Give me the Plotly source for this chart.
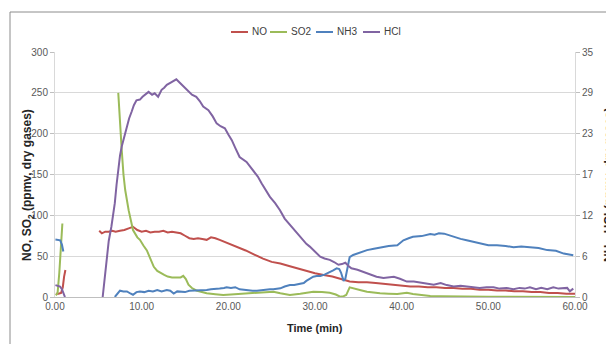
import plotly.graph_objects as go

# ---------------- data ----------------
series_names = ["NO", "SO2", "NH3", "HCl"]
series_colors = ["#c0504d", "#9bbb59", "#4f81bd", "#8064a2"]

no_t = [0.1, 0.4, 0.7, 0.9, 1.05, 1.2, None,
        5.1, 5.4, 5.8, 6.2, 6.6, 7.0, 7.5, 8.0, 8.5, 9.0, 9.5, 10.0, 10.5, 11.0, 11.5, 12.0, 12.5, 13.0, 13.5,
        14.0, 14.5, 15.0, 15.5, 16.0, 16.5, 17.0, 17.5, 18.0, 18.5, 19.0, 19.5, 20.0, 21.0, 22.0, 23.0, 24.0,
        25.0, 26.0, 27.0, 28.0, 29.0, 30.0, 31.0, 32.0, 33.0, 34.0, 35.0, 36.0, 37.0, 38.0, 39.0, 40.0, 41.0,
        42.0, 43.0, 44.0, 45.0, 46.0, 47.0, 48.0, 49.0, 50.0, 51.0, 52.0, 53.0, 54.0, 55.0, 56.0, 57.0, 58.0,
        59.0, 60.0]
no_v = [4, 4, 5, 12, 25, 33, None,
        81, 78, 80, 80, 81, 80, 81, 82, 84, 86, 82, 80, 81, 79, 80, 80, 81, 79, 80,
        79, 78, 75, 72, 71, 72, 71, 70, 73, 72, 70, 68, 66, 62, 57, 52, 47,
        43, 41, 38, 35, 32, 29, 27, 25, 22, 19, 18, 18, 17, 16, 15, 14, 13,
        13, 12, 12, 11, 11, 10, 10, 9, 9, 8, 8, 7, 7, 6, 6, 5, 5,
        4, 4]

so2_t = [0.1, 0.3, 0.5, 0.7, 0.85, None,
         7.3, 7.5, 7.7, 7.9, 8.1, 8.5, 9.0, 9.5, 9.8, 10.2, 10.6, 11.0, 11.4, 11.8, 12.2, 12.6, 13.0, 13.5,
         14.0, 14.5, 14.8, 15.1, 15.4, 15.8, 16.3, 16.9, 17.5, 18.5, 19.4, 20.3, 21.3, 22.3, 23.3, 24.3, 25.2,
         26.0, 27.1, 28.3, 29.8, 30.8, 31.7, 32.4, 32.9, 33.3, 33.6, 34.0, 34.4, 34.8, 35.4, 36.0, 36.8, 37.5,
         38.5, 39.5, 40.6, 41.3, 42.3, 43.3, 44.5, 45.5, 47.1, 48.5, 50.0, 52.0, 54.0, 56.0, 58.0, 60.0]
so2_v = [2, 5, 30, 70, 90, None,
         250, 210, 180, 150, 131, 106, 82, 73, 70, 63, 57, 47, 37, 32, 29, 27, 25, 24,
         24, 24, 26, 22, 15, 11, 8, 6, 4.5, 3.5, 2.4, 3, 3.7, 4.5, 5.3, 6, 6.5,
         4.5, 2.4, 4, 6.5, 6, 5.3, 3, 0.4, 1, 2.4, 11.8, 10.5, 9.4, 8, 6.5, 5, 4.5,
         4, 3.7, 5.3, 3.7, 2.5, 1.2, 1, 0.7, 0.4, 0.3, 0.2, 0.2, 0.1, 0.1, 0.1, 0.1]

nh3_t = [0.05, 0.3, 0.6, 0.8, 0.96, None,
         6.9, 7.2, 7.5, 7.9, 8.3, 8.7, 9.0, 9.4, 9.8, 10.3, 10.8, 11.3, 11.8, 12.3, 12.9, 13.3, 13.7, 14.1,
         14.5, 15.0, 15.5, 16.0, 16.5, 17.0, 17.5, 18.0, 18.5, 19.0, 19.5, 19.8, 20.3, 20.8, 21.3, 21.8, 22.3,
         22.8, 23.3, 23.8, 24.3, 24.8, 25.2, 25.6, 26.0, 26.5, 27.1, 27.6, 28.3, 28.7, 29.0, 29.4, 29.8, 30.2,
         30.6, 31.1, 31.7, 32.1, 32.5, 32.8, 33.0, 33.3, 33.5, 33.7, 34.0, 34.4, 34.8, 35.4, 36.0, 36.8, 37.5,
         38.5, 39.5, 40.2, 40.8, 41.3, 42.3, 43.3, 43.8, 44.3, 44.9, 45.5, 46.2, 46.8, 47.5, 48.2, 49.0, 50.0,
         51.0, 52.0, 52.9, 53.8, 54.8, 55.8, 56.8, 57.8, 58.7, 59.3, 59.8]
nh3_v = [8.2, 8.2, 8.1, 7.5, 6.5, None,
         0, 0.5, 0.9, 0.8, 0.8, 0.5, 0.3, 0.7, 0.8, 0.7, 0.9, 0.8, 1.0, 0.8, 1.0, 0.9, 0.5, 0.8,
         0.8, 0.7, 0.9, 0.9, 1.0, 1.0, 1.0, 1.1, 1.1, 1.2, 1.3, 1.4, 1.3, 1.4, 1.1, 1.0, 0.9,
         0.9, 0.9, 1.0, 1.0, 1.1, 1.1, 1.2, 1.24, 1.5, 1.7, 1.7, 1.86, 2.0, 2.3, 2.6, 2.9, 3.0,
         3.0, 3.2, 3.5, 3.8, 4.1, 4.0, 3.5, 2.3, 2.6, 3.8, 5.7, 6.0, 6.2, 6.4, 6.7, 6.9, 7.1,
         7.3, 7.4, 8.1, 8.4, 8.6, 8.7, 9.0, 8.9, 9.1, 9.05, 8.8, 8.5, 8.3, 8.1, 7.9, 7.6, 7.4,
         7.4, 7.3, 7.1, 7.2, 7.1, 7.0, 6.7, 6.6, 6.2, 6.1, 5.95]

hcl_t = [0.05, 0.3, 0.58, 0.8, 1.0, 1.15, None,
         5.5, 5.7, 5.96, 6.2, 6.5, 6.7, 6.9, 7.1, 7.3, 7.5, 7.7, 8.0, 8.27, 8.55, 8.85, 9.1, 9.4, 9.8, 10.1,
         10.4, 10.8, 11.2, 11.5, 11.9, 12.3, 12.6, 12.9, 13.3, 13.65, 14.0, 14.4, 14.8, 15.2, 15.8, 16.3, 16.7,
         17.1, 17.7, 18.2, 18.65, 19.1, 19.6, 20.0, 20.4, 20.8, 21.3, 22.1, 22.9, 23.4, 23.85, 24.3, 24.8, 25.4,
         25.96, 26.5, 27.1, 27.5, 28.3, 29.0, 29.4, 30.0, 30.6, 31.1, 31.7, 32.2, 32.7, 33.1, 33.5, 33.9, 34.2,
         34.9, 35.6, 36.3, 37.1, 37.9, 38.5, 39.1, 39.8, 40.6, 41.4, 42.2, 43.0, 43.7, 44.1, 44.5, 45.2, 46.0,
         46.8, 47.6, 48.3, 49.0, 49.8, 50.6, 51.3, 52.1, 52.9, 53.6, 54.2, 54.8, 55.5, 56.1, 56.8, 57.5, 58.1,
         58.7, 59.1, 59.4, 59.8]
hcl_v = [1.7, 1.6, 1.5, 1.1, 0.5, 0, None,
         0, 2.5, 5.8, 8, 10, 11.7, 13.4, 16, 18.6, 20.2, 21.5, 23, 24.3, 25.5, 26.5, 27.4, 28.1, 28.2, 28.6,
         28.9, 29.3, 28.9, 29.1, 28.6, 29.6, 29.9, 30.3, 30.6, 30.8, 31.1, 30.6, 30.1, 29.6, 28.9, 28.6, 28.0,
         27.2, 26.7, 25.8, 24.8, 24.4, 24.1, 23.2, 22.4, 21.3, 20.0, 19.3, 18.1, 17.2, 16.2, 15.3, 14.3, 13.4,
         12.4, 11.2, 10.3, 9.8, 8.6, 7.6, 7.2, 6.5, 5.76, 5.5, 5.3, 5.0, 4.6, 4.7, 4.9, 4.4, 4.1,
         3.9, 3.6, 3.2, 2.9, 2.7, 2.8, 2.9, 2.6, 2.2, 2.2, 2.0, 1.9, 1.76, 1.9, 2.0, 1.7, 1.5,
         1.6, 1.5, 1.4, 1.3, 1.4, 1.4, 1.2, 1.3, 1.1, 1.3, 1.2, 1.4, 1.1, 1.3, 1.1, 1.4, 1.2,
         1.2, 1.3, 0.8, 1.2]

x_ticks = [0, 10, 20, 30, 40, 50, 60]
left_ticks = [0, 50, 100, 150, 200, 250, 300]
right_tick_vals = [35 * i / 6 for i in range(7)]
right_tick_text = ["0", "6", "12", "17", "23", "29", "35"]

assert len(no_t) == len(no_v) and len(so2_t) == len(so2_v)
assert len(nh3_t) == len(nh3_v) and len(hcl_t) == len(hcl_v)

FONT = "Liberation Sans Narrow, Arial Narrow, Liberation Sans, sans-serif"
TXT = "#595959"
TITLE = "#262626"

L, R, T, B, W, H = 55, 31, 52, 47, 606, 344
PW, PH = W - L - R, H - T - B


def px_x(p):
    return (p - L) / PW


def px_y(p):
    return (H - B - p) / PH


fig = go.Figure()
series = [(no_t, no_v, "y"), (so2_t, so2_v, "y"), (nh3_t, nh3_v, "y2"), (hcl_t, hcl_v, "y2")]
for (tt, vv, ax), name, col in zip(series, series_names, series_colors):
    fig.add_trace(go.Scatter(x=tt, y=vv, name=name, mode="lines", yaxis=ax,
                             line=dict(color=col, width=2), showlegend=False))

fig.update_layout(
    width=W, height=H,
    margin=dict(l=L, r=R, t=T, b=B, autoexpand=False),
    paper_bgcolor="white", plot_bgcolor="white",
    font=dict(family=FONT, size=10, color=TXT),
    showlegend=False,
    xaxis=dict(range=[0, 60], tickvals=x_ticks, tickformat=".2f", showgrid=False,
               showline=True, linecolor="#bfbfbf", linewidth=1, zeroline=False,
               ticks="", tickfont=dict(size=10, color=TXT)),
    yaxis=dict(range=[0, 300], tickvals=left_ticks, showgrid=True, gridcolor="#d9d9d9",
               gridwidth=1, zeroline=False, showline=True, linecolor="#d9d9d9",
               ticks="outside", ticklen=4, tickcolor="#bfbfbf", tickfont=dict(size=10, color=TXT)),
    yaxis2=dict(range=[0, 35], overlaying="y", side="right", tickvals=right_tick_vals,
                ticktext=right_tick_text, showgrid=False, zeroline=False, showline=True,
                linecolor="#d9d9d9", ticks="outside", ticklen=4, tickcolor="#bfbfbf",
                tickfont=dict(size=10, color=TXT)),
)

# legend (compact, Excel-like): swatch + label for each series
legend_x = [231, 270, 316, 363]
for lx, name, col in zip(legend_x, series_names, series_colors):
    fig.add_shape(type="line", xref="paper", yref="paper",
                  x0=px_x(lx), x1=px_x(lx + 17), y0=px_y(32), y1=px_y(32),
                  line=dict(color=col, width=2))
    fig.add_annotation(text=name, xref="paper", yref="paper", x=px_x(lx + 19), y=px_y(32),
                       xanchor="left", yanchor="middle", showarrow=False,
                       font=dict(size=10, color="#404040"))

# axis titles
fig.add_annotation(text="<b>Time (min)</b>", xref="paper", yref="paper",
                   x=0.5, y=px_y(328), xanchor="center", yanchor="middle",
                   showarrow=False, font=dict(size=11, color=TITLE))
fig.add_annotation(text="<b>NO, SO<sub>2</sub> (ppmv, dry gases)</b>", xref="paper", yref="paper",
                   x=px_x(28), y=px_y(185), xanchor="center", yanchor="middle",
                   textangle=-90, showarrow=False, font=dict(size=12, color=TITLE))
# right axis title (partially cut by the image edge, as in the original)
fig.add_annotation(text="<b>NH<sub>3</sub>, HCl (ppmv, dry gases)</b>", xref="paper", yref="paper",
                   x=px_x(610), y=px_y(185), xanchor="center", yanchor="middle",
                   textangle=-90, showarrow=False, font=dict(size=12, color=TITLE))

# chart-area frame
fig.add_shape(type="rect", xref="paper", yref="paper",
              x0=px_x(10), x1=px_x(620), y0=px_y(360), y1=px_y(12),
              line=dict(color="#8c8c8c", width=1), fillcolor="rgba(0,0,0,0)", layer="below")

fig.write_html("out.html", config={"displayModeBar": False},
               post_script="document.body.style.margin='0';document.body.style.overflow='hidden';")
